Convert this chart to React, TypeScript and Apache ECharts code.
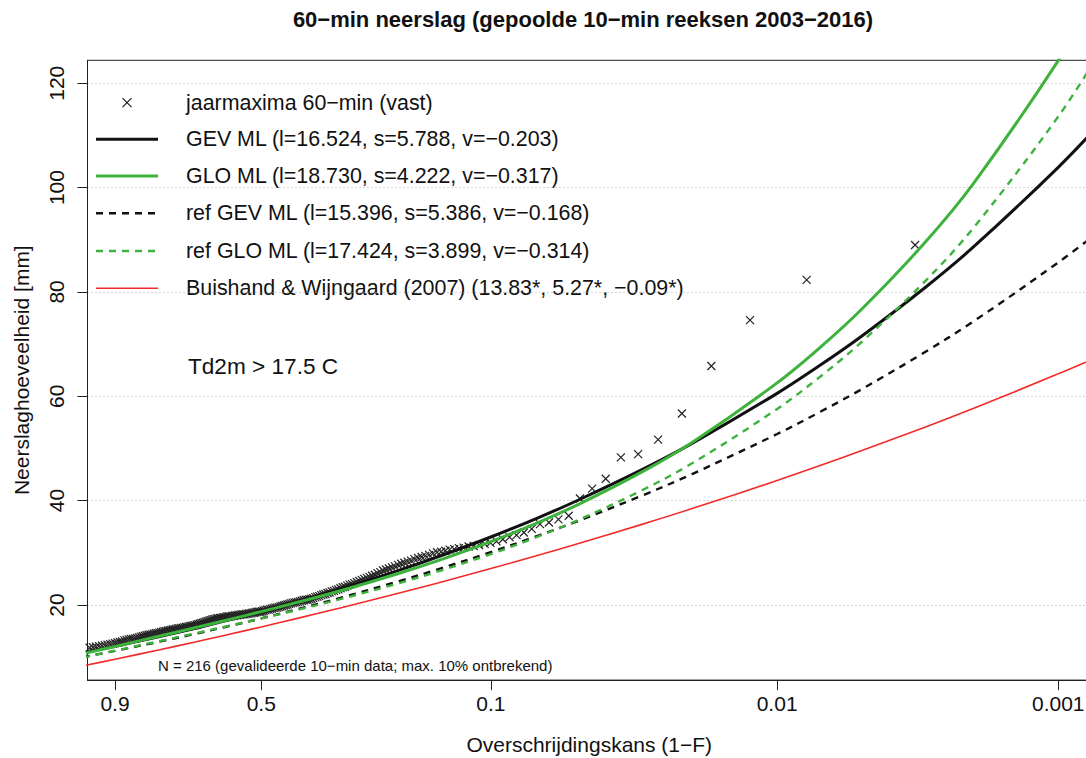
import React, { useEffect, useRef } from 'react';
import * as echarts from 'echarts';

const chartTitle = '60−min neerslag (gepoolde 10−min reeksen 2003−2016)';
const xAxisName = 'Overschrijdingskans (1−F)';
const yAxisName = 'Neerslaghoeveelheid [mm]';

// x axis: exceedance probability on a Gumbel scale
const xTickProbs = [0.9, 0.5, 0.1, 0.01, 0.001];
const xTickLabels = ['0.9', '0.5', '0.1', '0.01', '0.001'];
const yTicks = [20, 40, 60, 80, 100, 120];

// fitted distribution curves, sampled at these exceedance probabilities
const curveProbs = [0.95, 0.9, 0.8, 0.7, 0.6, 0.5, 0.4, 0.3, 0.2, 0.15, 0.1, 0.07, 0.05, 0.03, 0.02, 0.01, 0.007, 0.005, 0.003, 0.002, 0.001, 0.0007];
const gevML = [10.83, 12.08, 13.9, 15.47, 17.04, 18.73, 20.69, 23.16, 26.67, 29.24, 33.03, 36.57, 40.12, 45.93, 50.97, 60.56, 66.03, 71.56, 80.71, 88.67, 103.89, 112.59];
const gloML = [10.65, 12.05, 13.99, 15.59, 17.12, 18.73, 20.56, 22.83, 26.08, 28.49, 32.14, 35.65, 39.28, 45.5, 51.15, 62.57, 69.47, 76.73, 89.32, 100.86, 124.35, 138.6];
const refGevML = [10.0, 11.2, 12.93, 14.41, 15.87, 17.43, 19.23, 21.46, 24.58, 26.84, 30.13, 33.15, 36.14, 40.97, 45.09, 52.77, 57.08, 61.38, 68.39, 74.39, 85.65, 91.97];
const refGloML = [9.93, 11.24, 13.04, 14.52, 15.94, 17.42, 19.11, 21.21, 24.2, 26.42, 29.76, 32.98, 36.31, 41.99, 47.15, 57.57, 63.85, 70.45, 81.88, 92.35, 113.62, 126.5];
const buishand = [8.32, 9.6, 11.38, 12.86, 14.29, 15.79, 17.48, 19.52, 22.29, 24.23, 26.98, 29.42, 31.78, 35.45, 38.47, 43.86, 46.76, 49.59, 54.03, 57.71, 64.31, 67.86];

// annual maxima (mm), sorted from largest to smallest (N = 216)
const annualMaxima = [
  89.0, 82.3, 74.6, 65.8, 56.7, 51.7, 48.9, 48.3, 44.2, 42.3, 40.4,
  37.1, 36.4, 35.8, 35.5, 34.6, 33.9, 33.4, 33.0, 32.6, 32.2,
  31.9, 31.7, 31.5, 31.3, 31.2, 31.0, 30.9, 30.7, 30.6, 30.4,
  30.2, 30.1, 29.9, 29.6, 29.4, 29.2, 29.0, 28.8, 28.5, 28.3,
  28.1, 27.9, 27.7, 27.4, 27.2, 27.0, 26.8, 26.6, 26.3, 26.1,
  25.8, 25.6, 25.4, 25.2, 25.0, 24.8, 24.6, 24.4, 24.2, 24.0,
  23.9, 23.7, 23.5, 23.4, 23.2, 23.0, 22.9, 22.7, 22.6, 22.4,
  22.3, 22.1, 22.0, 21.9, 21.7, 21.6, 21.5, 21.3, 21.2, 21.1,
  21.0, 21.0, 20.9, 20.8, 20.7, 20.6, 20.5, 20.5, 20.4, 20.3,
  20.2, 20.1, 20.0, 19.9, 19.8, 19.7, 19.6, 19.5, 19.5, 19.4,
  19.3, 19.2, 19.1, 19.1, 19.0, 18.9, 18.8, 18.7, 18.7, 18.7,
  18.6, 18.5, 18.5, 18.4, 18.4, 18.3, 18.3, 18.2, 18.2, 18.2,
  18.1, 18.1, 18.0, 18.0, 17.9, 17.9, 17.8, 17.8, 17.8, 17.7,
  17.6, 17.6, 17.5, 17.5, 17.4, 17.4, 17.3, 17.3, 17.2, 17.1,
  17.0, 16.9, 16.8, 16.7, 16.6, 16.5, 16.4, 16.3, 16.2, 16.1,
  16.1, 16.0, 16.0, 15.9, 15.8, 15.8, 15.7, 15.6, 15.6, 15.5,
  15.5, 15.4, 15.3, 15.3, 15.2, 15.1, 15.1, 15.0, 15.0, 14.9,
  14.8, 14.7, 14.6, 14.6, 14.5, 14.4, 14.3, 14.3, 14.2, 14.1,
  14.0, 13.9, 13.8, 13.7, 13.6, 13.5, 13.5, 13.4, 13.3, 13.2,
  13.0, 12.9, 12.8, 12.7, 12.6, 12.5, 12.4, 12.3, 12.2, 12.1,
  12.0, 11.9, 11.8, 11.7, 11.6, 11.5, 11.3, 11.2, 11.0, 10.8,
  10.6, 10.4, 10.1, 9.8, 9.2,
];

const seriesNames = [
  'jaarmaxima 60−min (vast)',
  'GEV ML (l=16.524, s=5.788, v=−0.203)',
  'GLO ML (l=18.730, s=4.222, v=−0.317)',
  'ref GEV ML (l=15.396, s=5.386, v=−0.168)',
  'ref GLO ML (l=17.424, s=3.899, v=−0.314)',
  'Buishand & Wijngaard (2007) (13.83*, 5.27*, −0.09*)',
];
const noteThreshold = 'Td2m > 17.5 C';
const noteN = 'N = 216 (gevalideerde 10−min data; max. 10% ontbrekend)';

const FONT = '"Liberation Sans", Arial, Helvetica, sans-serif';
const GREEN = '#3db23d';
const RED = '#f22a2a';
const BLACK = '#111111';

// Gumbel reduced variate of an exceedance probability
const gumbel = (p: number) => -Math.log(-Math.log(1 - p));

const lineStyles = [
  null,
  { color: BLACK, width: 3, type: 'solid' as any },
  { color: GREEN, width: 3, type: 'solid' as any },
  { color: BLACK, width: 2.4, type: [7, 6] as any },
  { color: GREEN, width: 2.4, type: [7, 6] as any },
  { color: RED, width: 1.6, type: 'solid' as any },
];

export default function App() {
  const ref = useRef<HTMLDivElement>(null);

  useEffect(() => {
    if (!ref.current) return;
    const chart = echarts.init(ref.current, undefined, { renderer: 'svg' });

    const N = annualMaxima.length;
    const scatterData = annualMaxima.map((v, i) => [gumbel((i + 1 - 0.3) / (N + 0.4)), v]);
    const curve = (vals: number[]) => curveProbs.map((p, i) => [gumbel(p), vals[i]]);
    const xTickG = xTickProbs.map(gumbel);

    const xMin = -1.0595;
    const xMax = 7.176;

    const legendRows = [102.7, 139.3, 176, 213.3, 251, 288.3];
    const graphics: any[] = [];
    legendRows.forEach((y, k) => {
      if (k === 0) {
        graphics.push({ type: 'line', shape: { x1: 122.5, y1: y - 4.5, x2: 131.5, y2: y + 4.5 }, style: { stroke: '#222', lineWidth: 1.2 } });
        graphics.push({ type: 'line', shape: { x1: 122.5, y1: y + 4.5, x2: 131.5, y2: y - 4.5 }, style: { stroke: '#222', lineWidth: 1.2 } });
      } else {
        const ls: any = lineStyles[k];
        graphics.push({
          type: 'line',
          shape: { x1: 96, y1: y, x2: 158, y2: y },
          style: { stroke: ls.color, lineWidth: ls.width, lineDash: Array.isArray(ls.type) ? ls.type : null },
        });
      }
      graphics.push({
        type: 'text', x: 186, y,
        style: { text: seriesNames[k], fontSize: 21.4, fontFamily: FONT, fill: '#111', align: 'left', verticalAlign: 'middle' },
      });
    });
    graphics.push({
      type: 'text', x: 188, y: 366,
      style: { text: noteThreshold, fontSize: 22.6, fontFamily: FONT, fill: '#111', align: 'left', verticalAlign: 'middle' },
    });
    graphics.push({
      type: 'text', x: 158, y: 665,
      style: { text: noteN, fontSize: 15, fontFamily: FONT, fill: '#111', align: 'left', verticalAlign: 'middle' },
    });

    const lineSeries = [gevML, gloML, refGevML, refGloML, buishand].map((vals, j) => {
      const ls: any = lineStyles[j + 1];
      return {
        type: 'line',
        name: seriesNames[j + 1],
        data: curve(vals),
        showSymbol: false,
        symbol: 'none',
        smooth: 0.35,
        clip: true,
        lineStyle: { color: ls.color, width: ls.width, type: ls.type },
        z: 3,
      };
    });

    chart.setOption({
      animation: false,
      backgroundColor: '#ffffff',
      title: {
        text: chartTitle,
        left: 583,
        top: 8,
        padding: 0,
        textAlign: 'center',
        textStyle: { fontSize: 22, fontWeight: 'bold', fontFamily: FONT, color: '#111' },
      },
      grid: {
        left: 87.5, right: -5, top: 60.3, bottom: 77.9,
        show: true, borderColor: '#222', borderWidth: 1, backgroundColor: 'transparent',
        containLabel: false, outerBoundsMode: 'none',
      },
      xAxis: {
        type: 'value', min: xMin, max: xMax,
        name: xAxisName, nameLocation: 'middle', nameGap: 54,
        nameTextStyle: { fontSize: 21, fontFamily: FONT, color: '#111' },
        axisLine: { show: true, onZero: false, lineStyle: { color: '#222', width: 1 } },
        axisTick: { show: true, length: 10, customValues: xTickG, lineStyle: { color: '#222', width: 1 } },
        axisLabel: {
          customValues: xTickG, fontSize: 21, fontFamily: FONT, color: '#111', margin: 13,
          formatter: (v: number) => {
            let best = 0;
            xTickG.forEach((g, i) => { if (Math.abs(g - v) < Math.abs(xTickG[best] - v)) best = i; });
            return xTickLabels[best];
          },
        },
        splitLine: { show: false },
      },
      yAxis: {
        type: 'value', min: 5.6, max: 124.4,
        name: yAxisName, nameLocation: 'middle', nameGap: 56, nameRotate: 90,
        nameTextStyle: { fontSize: 21, fontFamily: FONT, color: '#111' },
        axisLine: { show: true, onZero: false, lineStyle: { color: '#222', width: 1 } },
        axisTick: { show: true, length: 10, customValues: yTicks, lineStyle: { color: '#222', width: 1 } },
        axisLabel: { customValues: yTicks, rotate: 90, fontSize: 21, fontFamily: FONT, color: '#111', margin: 21 },
        splitLine: { show: true, lineStyle: { type: [1, 3], color: '#a8a8a8', width: 1 } },
      },
      graphic: graphics,
      series: [
        {
          type: 'scatter',
          name: seriesNames[0],
          data: scatterData,
          symbol: 'path://M0,0L10,10M10,0L0,10',
          symbolSize: 8,
          clip: true,
          itemStyle: { color: 'transparent', borderColor: '#222', borderWidth: 1.2, opacity: 1 },
          z: 2,
        },
        ...lineSeries,
      ],
    });

    return () => chart.dispose();
  }, []);

  return (
    <div
      ref={ref}
      style={{ position: 'fixed', left: 0, top: 0, width: 1086, height: 758, background: '#fff' }}
    />
  );
}
